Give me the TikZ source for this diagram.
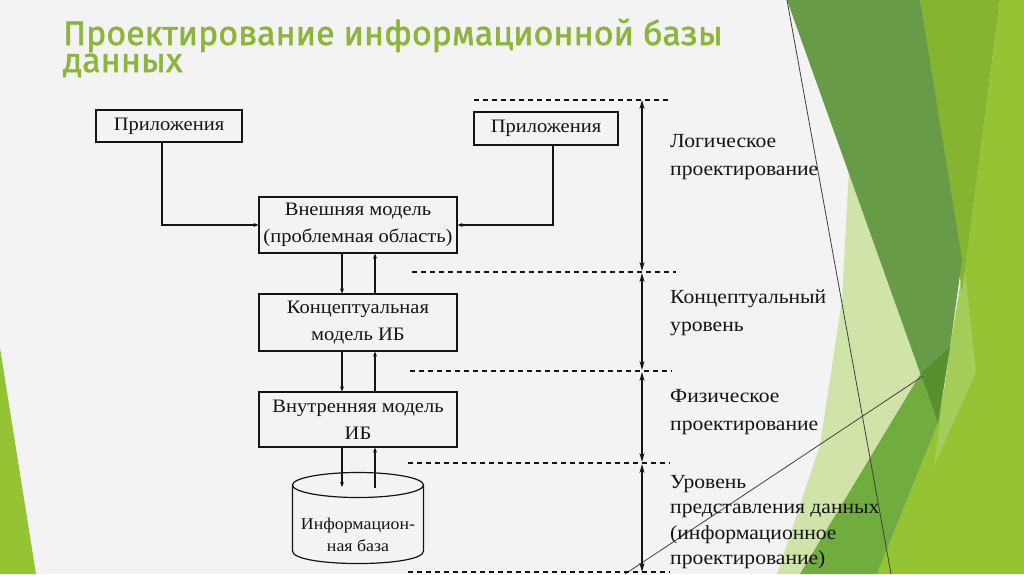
\documentclass[tikz,border=0pt]{standalone}
\usepackage{fontspec}
\setmainfont{Liberation Serif}[FakeStretch=1.08]
\newfontfamily\titlefont{Fira Sans}[FakeBold=1.5]
\usetikzlibrary{arrows.meta}
\definecolor{bg}{RGB}{243,243,243}
\definecolor{titlegreen}{RGB}{140,181,58}
\definecolor{lime}{RGB}{148,196,52}
\definecolor{midlime}{RGB}{133,180,48}
\definecolor{olive}{RGB}{104,155,72}
\definecolor{darkolive}{RGB}{86,145,45}
\definecolor{medgreen}{RGB}{112,172,62}
\definecolor{pale}{RGB}{208,228,170}
\definecolor{streak}{RGB}{163,205,88}
\definecolor{ink}{RGB}{20,20,20}
\tikzset{
  boxnode/.style={draw=ink, line width=1.2pt, inner sep=0pt, align=center,
    font=\fontsize{19}{27}\selectfont, text=ink},
  lbl/.style={anchor=west, inner sep=0pt, align=left, text=ink,
    font=\fontsize{20}{28.5}\selectfont},
  conn/.style={draw=ink, line width=1.1pt, -{Stealth[length=5pt,width=4pt]}},
  axis/.style={draw=ink, line width=1.4pt,
    {Stealth[length=9pt,width=5pt]}-{Stealth[length=9pt,width=5pt]}},
  levelline/.style={draw=ink, line width=1.3pt, dash pattern=on 5pt off 4pt},
  thinline/.style={draw=black!75, line width=0.8pt},
  titletext/.style={anchor=base west, inner sep=0pt, text=titlegreen,
    font=\titlefont\fontsize{34}{26}\selectfont}
}
\begin{document}
\begin{tikzpicture}[x=1pt,y=-1pt]
\useasboundingbox (0,0) rectangle (1024,574);
\fill[bg] (0,0) rectangle (1024,574);
% decorations
\fill[lime] (0,348) -- (36,574) -- (0,574) -- cycle;
\fill[pale] (850,150) -- (930,380) -- (800,574) -- (777,574) -- (820,445) -- (842,300) -- cycle;
\fill[lime] (1000,0) -- (1024,0) -- (1024,574) -- (877,574) -- (938,423) -- (962,290) -- cycle;
\fill[medgreen] (921,373) -- (938,423) -- (877,574) -- (800,574) -- cycle;
\fill[streak] (964,262) -- (976,372) -- (934,466) -- (950,347) -- cycle;
\fill[midlime] (920,0) -- (1000,0) -- (962,292) -- cycle;
\fill[olive] (787,0) -- (920,0) -- (962,260) -- (950,347) -- (938,423) -- cycle;
\fill[darkolive] (921,373) -- (950,347) -- (938,423) -- cycle;
\draw[thinline] (787,0) -- (891,574);
\draw[thinline] (625,574) -- (923,376);
% title
\node[titletext] (title) at (63,45) {\vtop{\baselineskip=27pt\lineskiplimit=-100pt\lineskip=0pt
  \hbox{Проектирование информационной базы}\hbox{данных}}};
% boxes
\node[boxnode, minimum width=146pt, minimum height=32pt] (app1) at (169,126) {Приложения};
\node[boxnode, minimum width=144pt, minimum height=33pt] (app2) at (546,128.5) {Приложения};
\node[boxnode, minimum width=198pt, minimum height=56pt] (ext) at (358,225) {Внешняя модель\\(проблемная область)};
\node[boxnode, minimum width=198pt, minimum height=57pt] (conc) at (358,322.5) {Концептуальная\\модель ИБ};
\node[boxnode, minimum width=198pt, minimum height=55pt] (int) at (358,419.5) {Внутренняя модель\\ИБ};
% cylinder
\draw[ink, line width=1.2pt] (358,485) ellipse [x radius=65.5, y radius=12.5];
\draw[ink, line width=1.2pt] (292.5,485) -- (292.5,551) .. controls (292.5,567.7) and (423.5,567.7) .. (423.5,551) -- (423.5,485);
\node[inner sep=0pt, align=center, text=ink, font=\fontsize{16.5}{21.5}\selectfont] (db) at (358,535) {Информацион-\\ная база};
\coordinate (dbin) at (342,487);
\coordinate (dbout) at (375,488);
% connectors
\draw[conn] ([xshift=-7pt]app1.south) |- (ext.west);
\draw[conn] ([xshift=7pt]app2.south) |- (ext.east);
\draw[conn] ([xshift=-16pt]ext.south) -- ([xshift=-16pt]conc.north);
\draw[conn] ([xshift=17pt]conc.north) -- ([xshift=17pt]ext.south);
\draw[conn] ([xshift=-16pt]conc.south) -- ([xshift=-16pt]int.north);
\draw[conn] ([xshift=17pt]int.north) -- ([xshift=17pt]conc.south);
\draw[conn] ([xshift=-16pt]int.south) -- (dbin);
\draw[conn] (dbout) -- ([xshift=17pt]int.south);
% levels
\coordinate (d0a) at (474,100); \coordinate (d0b) at (668,100);
\coordinate (d1a) at (412,272); \coordinate (d1b) at (676,272);
\coordinate (d2a) at (410,371); \coordinate (d2b) at (672,371);
\coordinate (d3a) at (408,463); \coordinate (d3b) at (670,463);
\coordinate (d4a) at (408,572); \coordinate (d4b) at (670,572);
\draw[levelline] (d0a) -- (d0b);
\draw[levelline] (d1a) -- (d1b);
\draw[levelline] (d2a) -- (d2b);
\draw[levelline] (d3a) -- (d3b);
\draw[levelline] (d4a) -- (d4b);
\coordinate (a0) at (642,100);
\coordinate (a1t) at (642,271); \coordinate (a1b) at (642,273);
\coordinate (a2t) at (642,370); \coordinate (a2b) at (642,372);
\coordinate (a3t) at (642,462); \coordinate (a3b) at (642,464);
\coordinate (a4) at (642,572);
\draw[axis] (a0) -- (a1t);
\draw[axis] (a1b) -- (a2t);
\draw[axis] (a2b) -- (a3t);
\draw[axis] (a3b) -- (a4);
% labels
\node[lbl] (lab1) at (670,157) {Логическое\\проектирование};
\node[lbl] (lab2) at (670,313) {Концептуальный\\уровень};
\node[lbl] (lab3) at (670,412) {Физическое\\проектирование};
\node[lbl, font=\fontsize{20}{25.5}\selectfont] (lab4) at (670,522) {Уровень\\представления данных\\(информационное\\проектирование)};
\end{tikzpicture}
\end{document}
